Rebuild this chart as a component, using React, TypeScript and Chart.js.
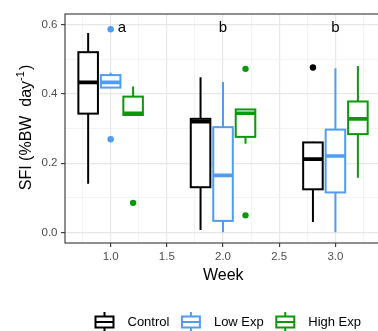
import React, { useEffect, useRef } from "react";
import { Chart, registerables } from "chart.js";

Chart.register(...registerables);

// ---- data ----
const weeks = [1, 2, 3];
const groupNames = ["Control", "Low Exp", "High Exp"];
const groupColors = ["#000000", "#4f9cf2", "#0a990a"];
const groupOffsets = [-0.2, 0, 0.2];
// [lower whisker, Q1, median, Q3, upper whisker] per week
const controlStats = [
  [0.141, 0.343, 0.433, 0.52, 0.575],
  [0.008, 0.131, 0.32, 0.328, 0.448],
  [0.031, 0.125, 0.212, 0.26, 0.262],
];
const lowExpStats = [
  [0.418, 0.418, 0.433, 0.454, 0.461],
  [0.001, 0.034, 0.165, 0.304, 0.434],
  [0.001, 0.116, 0.221, 0.297, 0.474],
];
const highExpStats = [
  [0.339, 0.339, 0.344, 0.392, 0.421],
  [0.256, 0.276, 0.344, 0.355, 0.356],
  [0.158, 0.284, 0.328, 0.378, 0.48],
];
const controlOutliers = [[], [], [0.476]];
const lowExpOutliers = [[0.586, 0.269], [], []];
const highExpOutliers = [[0.086], [0.472, 0.05], []];
const letterLabels = ["a", "b", "b"];
const letterX = [1.1, 2.0, 3.0];
const letterY = 0.579;
const xTickValues = [0.75, 1, 1.25, 1.5, 1.75, 2, 2.25, 2.5, 2.75, 3, 3.25];
const yTickValues = [0, 0.1, 0.2, 0.3, 0.4, 0.5, 0.6];
const xTitle = "Week";
const yTitleMain = "SFI (%BW  day";
const yTitleSup = "-1";
const yTitleEnd = ")";

const allStats = [controlStats, lowExpStats, highExpStats];
const allOutliers = [controlOutliers, lowExpOutliers, highExpOutliers];

const FONT = "'Liberation Sans', Arial, sans-serif";
const BOX_HALF = 0.087;

const isMajor = (v: number, step: number) =>
  Math.abs(v / step - Math.round(v / step)) < 1e-6;

const boxPlugin = {
  id: "boxes",
  beforeDatasetsDraw(chart: any) {
    const { ctx, chartArea } = chart;
    const xs = chart.scales.x;
    const ys = chart.scales.y;
    ctx.save();
    ctx.beginPath();
    ctx.rect(chartArea.left, chartArea.top, chartArea.right - chartArea.left, chartArea.bottom - chartArea.top);
    ctx.clip();
    weeks.forEach((w, i) => {
      allStats.forEach((stats, g) => {
        const s = stats[i];
        const xc = xs.getPixelForValue(w + groupOffsets[g]);
        const x0 = xs.getPixelForValue(w + groupOffsets[g] - BOX_HALF);
        const x1 = xs.getPixelForValue(w + groupOffsets[g] + BOX_HALF);
        const [ymin, yq1, ymed, yq3, ymax] = s.map((v) => ys.getPixelForValue(v));
        ctx.strokeStyle = groupColors[g];
        ctx.lineWidth = 2;
        ctx.beginPath();
        ctx.moveTo(xc, ymax);
        ctx.lineTo(xc, yq3);
        ctx.moveTo(xc, yq1);
        ctx.lineTo(xc, ymin);
        ctx.stroke();
        ctx.fillStyle = "#ffffff";
        ctx.fillRect(x0, yq3, x1 - x0, yq1 - yq3);
        ctx.strokeRect(x0, yq3, x1 - x0, yq1 - yq3);
        ctx.lineWidth = 3.6;
        ctx.beginPath();
        ctx.moveTo(x0, ymed);
        ctx.lineTo(x1, ymed);
        ctx.stroke();
      });
    });
    ctx.restore();
  },
  afterDatasetsDraw(chart: any) {
    const { ctx } = chart;
    const xs = chart.scales.x;
    const ys = chart.scales.y;
    ctx.save();
    ctx.fillStyle = "#000";
    ctx.font = `15px ${FONT}`;
    ctx.textAlign = "center";
    ctx.textBaseline = "alphabetic";
    letterLabels.forEach((t, i) => {
      ctx.fillText(t, xs.getPixelForValue(letterX[i]), ys.getPixelForValue(letterY));
    });
    ctx.restore();
  },
  afterDraw(chart: any) {
    const { ctx, chartArea } = chart;
    ctx.save();
    // panel border
    ctx.strokeStyle = "#333333";
    ctx.lineWidth = 1.1;
    ctx.strokeRect(chartArea.left, chartArea.top, chartArea.right - chartArea.left, chartArea.bottom - chartArea.top);
    // x title
    ctx.fillStyle = "#000";
    ctx.font = `16px ${FONT}`;
    ctx.textAlign = "center";
    ctx.textBaseline = "alphabetic";
    ctx.fillText(xTitle, (chartArea.left + chartArea.right) / 2, 280);
    // y title
    ctx.save();
    ctx.translate(31, (chartArea.top + chartArea.bottom) / 2 - 1);
    ctx.rotate(-Math.PI / 2);
    ctx.textAlign = "left";
    ctx.font = `16px ${FONT}`;
    const wMain = ctx.measureText(yTitleMain).width;
    const wEnd = ctx.measureText(yTitleEnd).width;
    ctx.font = `11px ${FONT}`;
    const wSup = ctx.measureText(yTitleSup).width;
    const total = wMain + wSup + wEnd + 1;
    let x = -total / 2;
    ctx.font = `16px ${FONT}`;
    ctx.fillText(yTitleMain, x, 0);
    x += wMain;
    ctx.font = `11px ${FONT}`;
    ctx.fillText(yTitleSup, x, -7);
    x += wSup + 1;
    ctx.font = `16px ${FONT}`;
    ctx.fillText(yTitleEnd, x, 0);
    ctx.restore();
    // legend
    ctx.font = `13px ${FONT}`;
    ctx.textAlign = "left";
    ctx.textBaseline = "middle";
    let lx = 94.5;
    const cy = 322;
    groupNames.forEach((name, g) => {
      const iw = 20;
      ctx.strokeStyle = groupColors[g];
      ctx.lineWidth = 2;
      ctx.beginPath();
      ctx.moveTo(lx + iw / 2, cy - 10);
      ctx.lineTo(lx + iw / 2, cy + 10);
      ctx.stroke();
      ctx.fillStyle = "#fff";
      ctx.fillRect(lx + 1, cy - 5.5, iw - 2, 11);
      ctx.strokeRect(lx + 1, cy - 5.5, iw - 2, 11);
      ctx.beginPath();
      ctx.moveTo(lx + 1, cy);
      ctx.lineTo(lx + iw - 1, cy);
      ctx.stroke();
      lx += iw + 13;
      ctx.fillStyle = "#000";
      ctx.fillText(name, lx, cy);
      lx += ctx.measureText(name).width + 11.5;
    });
    ctx.restore();
  },
};

export default function App() {
  const ref = useRef<HTMLCanvasElement | null>(null);
  useEffect(() => {
    if (!ref.current) return;
    const datasets = groupNames.map((name, g) => ({
      label: name,
      data: weeks.flatMap((w, i) =>
        allOutliers[g][i].map((v) => ({ x: w + groupOffsets[g], y: v }))
      ),
      backgroundColor: groupColors[g],
      borderWidth: 0,
      pointRadius: 3.2,
    }));
    const chart = new Chart(ref.current, {
      type: "scatter",
      data: { datasets },
      options: {
        animation: false,
        responsive: false,
        events: [],
        devicePixelRatio: 1,
        layout: { padding: { top: 14, left: 0, right: 18.5, bottom: 0 } },
        plugins: { legend: { display: false }, tooltip: { enabled: false } },
        scales: {
          x: {
            type: "linear",
            min: 0.594,
            max: 3.41,
            afterBuildTicks: (scale: any) => {
              scale.ticks = xTickValues.map((v) => ({ value: v }));
            },
            afterFit: (scale: any) => {
              scale.height = 88;
            },
            border: { display: false },
            grid: {
              color: (c: any) => (c.tick && isMajor(c.tick.value, 0.5) ? "#e8e8e8" : "#f0f0f0"),
              lineWidth: (c: any) => (c.tick && isMajor(c.tick.value, 0.5) ? 1.2 : 0.8),
              tickColor: (c: any) => (c.tick && isMajor(c.tick.value, 0.5) ? "#333333" : "rgba(0,0,0,0)"),
              tickWidth: 1.1,
              tickLength: 4,
              drawTicks: true,
            },
            ticks: {
              autoSkip: false,
              maxRotation: 0,
              padding: 3,
              color: "#4d4d4d",
              font: { family: FONT, size: 11.5 },
              callback: (v: any) => (isMajor(Number(v), 0.5) ? Number(v).toFixed(1) : ""),
            },
          },
          y: {
            type: "linear",
            min: -0.0297,
            max: 0.63,
            afterBuildTicks: (scale: any) => {
              scale.ticks = yTickValues.map((v) => ({ value: v }));
            },
            afterFit: (scale: any) => {
              scale.width = 65;
            },
            border: { display: false },
            grid: {
              color: (c: any) => (c.tick && isMajor(c.tick.value, 0.2) ? "#e8e8e8" : "#f0f0f0"),
              lineWidth: (c: any) => (c.tick && isMajor(c.tick.value, 0.2) ? 1.2 : 0.8),
              tickColor: (c: any) => (c.tick && isMajor(c.tick.value, 0.2) ? "#333333" : "rgba(0,0,0,0)"),
              tickWidth: 1.1,
              tickLength: 4,
              drawTicks: true,
            },
            ticks: {
              autoSkip: false,
              padding: 3.5,
              color: "#4d4d4d",
              font: { family: FONT, size: 11.5 },
              callback: (v: any) => (isMajor(Number(v), 0.2) ? Number(v).toFixed(1) : ""),
            },
          },
        },
      },
      plugins: [boxPlugin],
    } as any);
    return () => chart.destroy();
  }, []);
  return (
    <div
      style={{
        position: "fixed",
        left: 0,
        top: 0,
        width: 378,
        height: 331,
        overflow: "hidden",
        background: "#ffffff",
      }}
    >
      <canvas ref={ref} width={400} height={331} style={{ width: 400, height: 331, display: "block" }} />
    </div>
  );
}
